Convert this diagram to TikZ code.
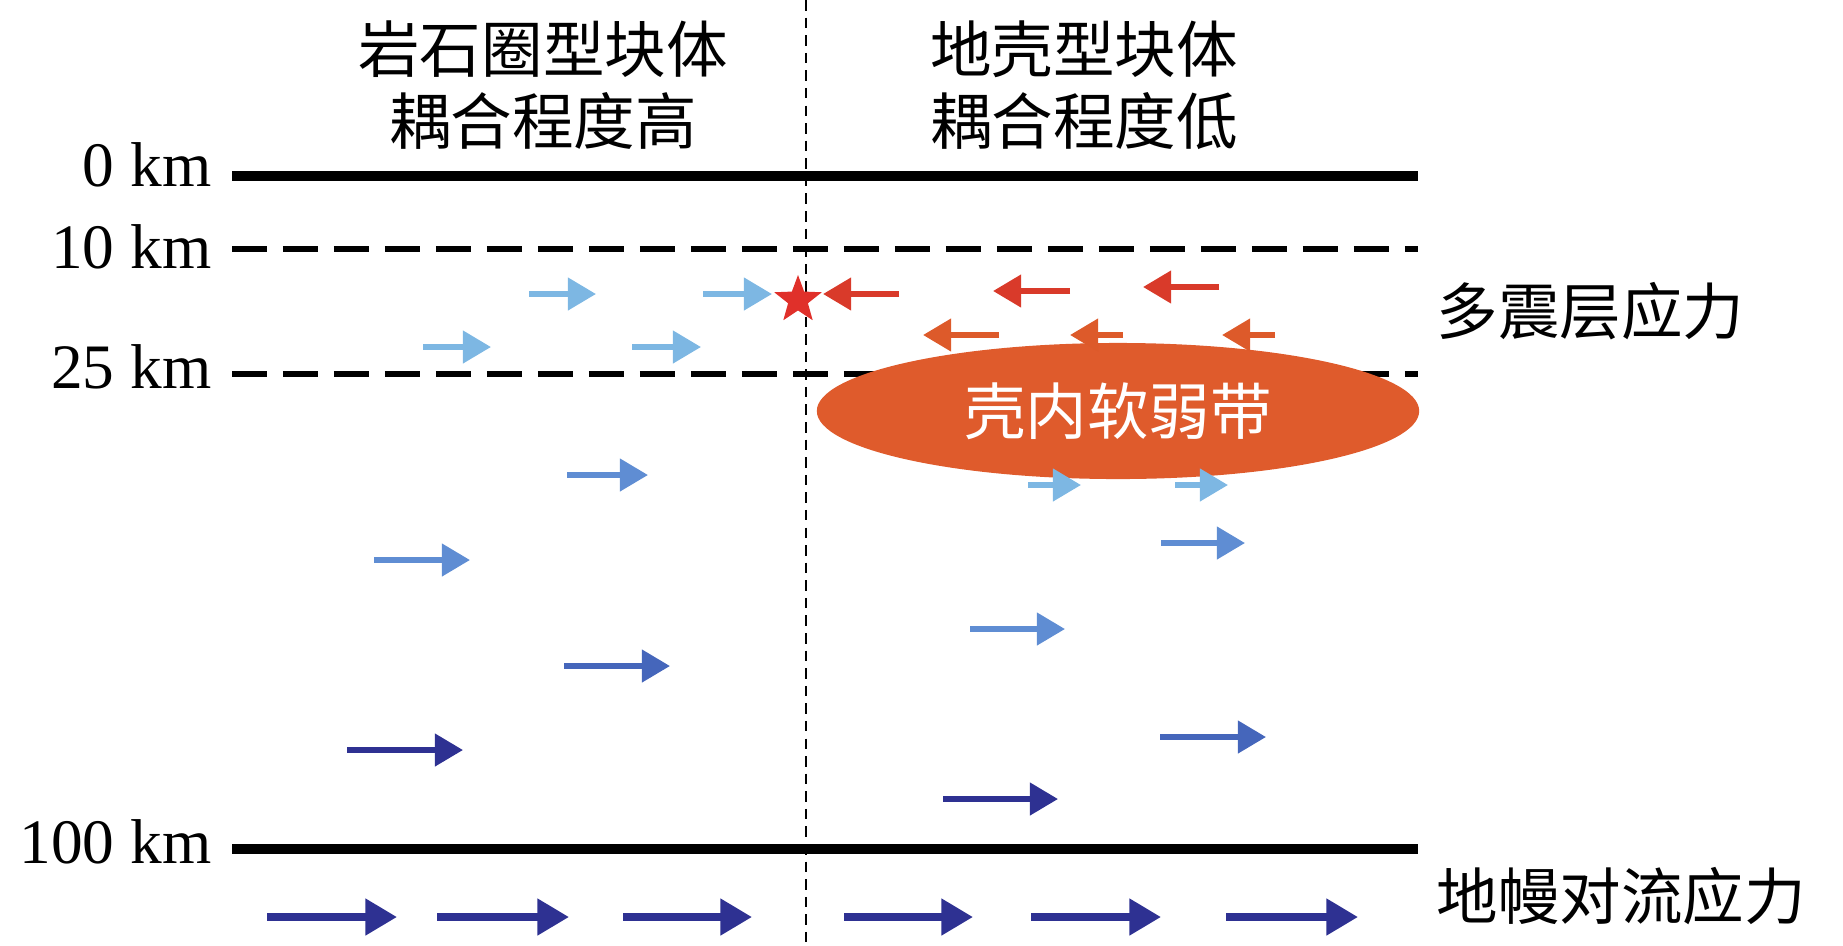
\documentclass[tikz,border=0pt]{standalone}
\usepackage{fontspec}
\setmainfont{Liberation Serif}
\newfontfamily\cjk{Noto Sans CJK SC}
\usetikzlibrary{arrows.meta,shapes.geometric}

\definecolor{paleblue}{HTML}{7DB7E3}
\definecolor{midblue}{HTML}{5F8DD3}
\definecolor{deepblue}{HTML}{4566BB}
\definecolor{navyblue}{HTML}{2E3192}
\definecolor{quakered}{HTML}{E0302A}
\definecolor{shearred}{HTML}{D93A2A}
\definecolor{shearorange}{HTML}{DD5A2A}
\definecolor{weakzone}{HTML}{DF5B2C}

\tikzset{
  depthlabel/.style={anchor=east,inner sep=0pt,font=\fontsize{18}{20}\selectfont},
  cjklabel/.style={inner sep=0pt,font=\cjk\fontsize{17.5}{20.5}\selectfont},
  depthline/.style={line width=2.8pt},
  depthdash/.style={line width=1.9pt,dash pattern=on 10pt off 4.5pt},
  stressarrow/.style={line width=1.6pt,-{Triangle[length=8pt,width=9pt]}},
  mantlearrow/.style={line width=2.1pt,-{Triangle[length=9pt,width=10pt]}},
}

\begin{document}
\begin{tikzpicture}[x=0.01cm,y=-0.01cm]
\path[use as bounding box] (0,0) rectangle (1843,945);

% titles
\node[cjklabel,align=center] (lithtitle) at (543,85) {岩石圈型块体\\耦合程度高};
\node[cjklabel,align=center] (crusttitle) at (1084,85) {地壳型块体\\耦合程度低};

% depth lines
\draw[depthline] (232,176) -- (1418,176);
\draw[depthdash] (232,249) -- (1418,249);
\draw[depthdash] (232,374) -- (1418,374);
\draw[depthline] (232,849) -- (1418,849);
\node[depthlabel] (km0) at (212,165) {0 km};
\node[depthlabel] (km10) at (212,247) {10 km};
\node[depthlabel] (km25) at (212,367) {25 km};
\node[depthlabel] (km100) at (212,842) {100 km};

% block boundary
\draw[line width=0.6pt,dash pattern=on 3pt off 2pt] (806,0) -- (806,945);

% weak zone
\node[ellipse,fill=weakzone,minimum width=6.02cm,minimum height=1.36cm,inner sep=0pt,
  text=white,font=\cjk\fontsize{17.5}{20}\selectfont] (weak) at (1118,411) {壳内软弱带};

% side labels
\node[cjklabel,anchor=west] (seismo) at (1436,311) {多震层应力};
\node[cjklabel,anchor=west] (mantle) at (1436,896) {地幔对流应力};

% stress arrows
\foreach \xa/\xb/\yy in {529/596/294,703/772/294,423/491/347,632/701/347,1028/1081/485,1175/1228/485}
  \draw[stressarrow,paleblue] (\xa,\yy) -- (\xb,\yy);
\foreach \xa/\xb/\yy in {899/823/294,1070/993/291,1219/1143/287}
  \draw[stressarrow,shearred] (\xa,\yy) -- (\xb,\yy);
\foreach \xa/\xb/\yy in {999/923/335,1123/1070/335,1275/1222/335}
  \draw[stressarrow,shearorange] (\xa,\yy) -- (\xb,\yy);
\foreach \xa/\xb/\yy in {567/648/475,374/470/560,1161/1245/543,970/1065/629}
  \draw[stressarrow,midblue] (\xa,\yy) -- (\xb,\yy);
\foreach \xa/\xb/\yy in {564/670/666,1160/1266/737}
  \draw[stressarrow,deepblue] (\xa,\yy) -- (\xb,\yy);
\foreach \xa/\xb/\yy in {347/463/750,943/1058/799}
  \draw[stressarrow,navyblue] (\xa,\yy) -- (\xb,\yy);
\foreach \xa/\xb in {267/397,437/569,623/752,844/973,1031/1161,1226/1358}
  \draw[mantlearrow,navyblue] (\xa,917) -- (\xb,917);

% earthquake
\node[star,star points=5,star point ratio=2.4,fill=quakered,minimum size=0.5cm,inner sep=0pt] (quake) at (798,300) {};
\end{tikzpicture}
\end{document}
